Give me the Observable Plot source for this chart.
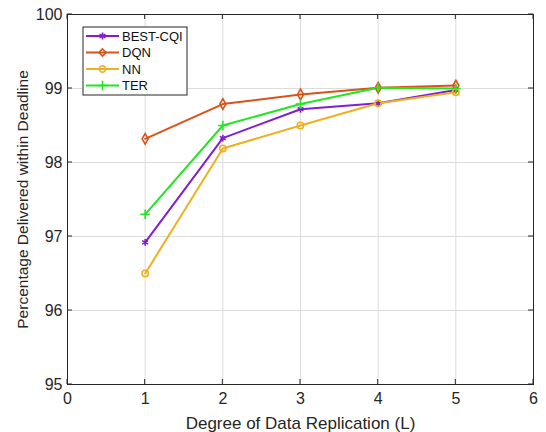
<!DOCTYPE html>
<html>
<head>
<meta charset="utf-8">
<script src="https://cdn.jsdelivr.net/npm/d3@7"></script>
<script src="https://cdn.jsdelivr.net/npm/@observablehq/plot@0.6"></script>
<style>
  body { margin: 0; background: #fff; }
  svg { display: block; }
</style>
</head>
<body>
<div id="chart"></div>
<script>
// ---- data ----
const replication = [1, 2, 3, 4, 5];
const bestCqi = [96.92, 98.33, 98.72, 98.80, 98.98];
const dqn     = [98.32, 98.79, 98.92, 99.01, 99.04];
const nn      = [96.50, 98.19, 98.50, 98.80, 98.95];
const ter     = [97.30, 98.50, 98.79, 99.01, 99.00];
const seriesNames = ["BEST-CQI", "DQN", "NN", "TER"];
const xTicks = [0, 1, 2, 3, 4, 5, 6];
const yTicks = [95, 96, 97, 98, 99, 100];

const seriesValues = [bestCqi, dqn, nn, ter];
const colors = ["#7E1FD6", "#D95319", "#EDB120", "#22E622"];
const symbols = ["asterisk", "diamond", "circle", "plus"];

const rows = [];
seriesNames.forEach((s, i) => {
  replication.forEach((x, j) => rows.push({series: s, x, y: seriesValues[i][j]}));
});

const FONT = "'Liberation Sans', Arial, Helvetica, sans-serif";
const symbolMap = {asterisk: d3.symbolAsterisk, diamond: d3.symbolDiamond2, circle: d3.symbolCircle, plus: d3.symbolPlus};

function inwardTicks(index, scales, values, dim) {
  const g = d3.create("svg:g").attr("stroke", "#262626").attr("stroke-width", 1);
  const L = dim.marginLeft, R = dim.width - dim.marginRight, T = dim.marginTop, B = dim.height - dim.marginBottom;
  const len = 5;
  for (const t of xTicks) {
    const x = scales.x(t);
    g.append("line").attr("x1", x).attr("x2", x).attr("y1", B).attr("y2", B - len);
    g.append("line").attr("x1", x).attr("x2", x).attr("y1", T).attr("y2", T + len);
  }
  for (const t of yTicks) {
    const y = scales.y(t);
    g.append("line").attr("x1", L).attr("x2", L + len).attr("y1", y).attr("y2", y);
    g.append("line").attr("x1", R).attr("x2", R - len).attr("y1", y).attr("y2", y);
  }
  return g.node();
}

function legend(index, scales, values, dim) {
  const g = d3.create("svg:g");
  const x0 = dim.marginLeft + 16, y0 = dim.marginTop + 13;
  const rowH = 16.5, w = 104, h = rowH * seriesNames.length + 2;
  g.append("rect").attr("x", x0).attr("y", y0).attr("width", w).attr("height", h)
    .attr("fill", "#fff").attr("stroke", "#262626").attr("stroke-width", 1);
  seriesNames.forEach((s, i) => {
    const cy = y0 + 9 + i * rowH;
    g.append("line").attr("x1", x0 + 3).attr("x2", x0 + 36).attr("y1", cy).attr("y2", cy)
      .attr("stroke", colors[i]).attr("stroke-width", 2);
    g.append("path").attr("d", d3.symbol(symbolMap[symbols[i]], 32)())
      .attr("transform", `translate(${x0 + 19.5},${cy})`)
      .attr("fill", "none").attr("stroke", colors[i]).attr("stroke-width", 1.6);
    g.append("text").attr("x", x0 + 39).attr("y", cy).attr("dy", "0.36em")
      .attr("text-anchor", "start")
      .attr("font-size", 13).attr("fill", "#111").attr("font-family", FONT).text(s);
  });
  return g.node();
}

const chart = Plot.plot({
  width: 546,
  height: 432,
  marginLeft: 67,
  marginRight: 13,
  marginTop: 14,
  marginBottom: 48,
  style: {fontFamily: FONT, fontSize: "15px", color: "#262626", background: "#fff"},
  x: {domain: [0, 6]},
  y: {domain: [95, 100]},
  color: {domain: seriesNames, range: colors},
  symbol: {domain: seriesNames, range: symbols},
  marks: [
    Plot.gridX(xTicks, {stroke: "#dcdcdc", strokeOpacity: 1}),
    Plot.gridY(yTicks, {stroke: "#dcdcdc", strokeOpacity: 1}),
    Plot.axisX(xTicks, {tickSize: 0, tickPadding: 8, fontSize: 16, tickFormat: d3.format("d"), label: null}),
    Plot.axisX({tickSize: 0, fontSize: 17, ticks: [], label: "Degree of Data Replication (L)", labelAnchor: "center", labelArrow: "none", labelOffset: 44}),
    Plot.axisY(yTicks, {tickSize: 0, tickPadding: 5, fontSize: 16, tickFormat: d3.format("d"), label: null}),
    Plot.axisY({tickSize: 0, fontSize: 15.5, ticks: [], label: "Percentage Delivered within Deadline", labelAnchor: "center", labelArrow: "none", labelOffset: 51}),
    Plot.line(rows, {x: "x", y: "y", z: "series", stroke: "series", strokeWidth: 2}),
    Plot.dot(rows, {x: "x", y: "y", symbol: "series", stroke: "series", fill: "none", r: 3.2, strokeWidth: 1.6}),
    Plot.frame({stroke: "#262626"}),
    inwardTicks,
    legend
  ]
});
document.getElementById("chart").append(chart);
</script>
</body>
</html>
